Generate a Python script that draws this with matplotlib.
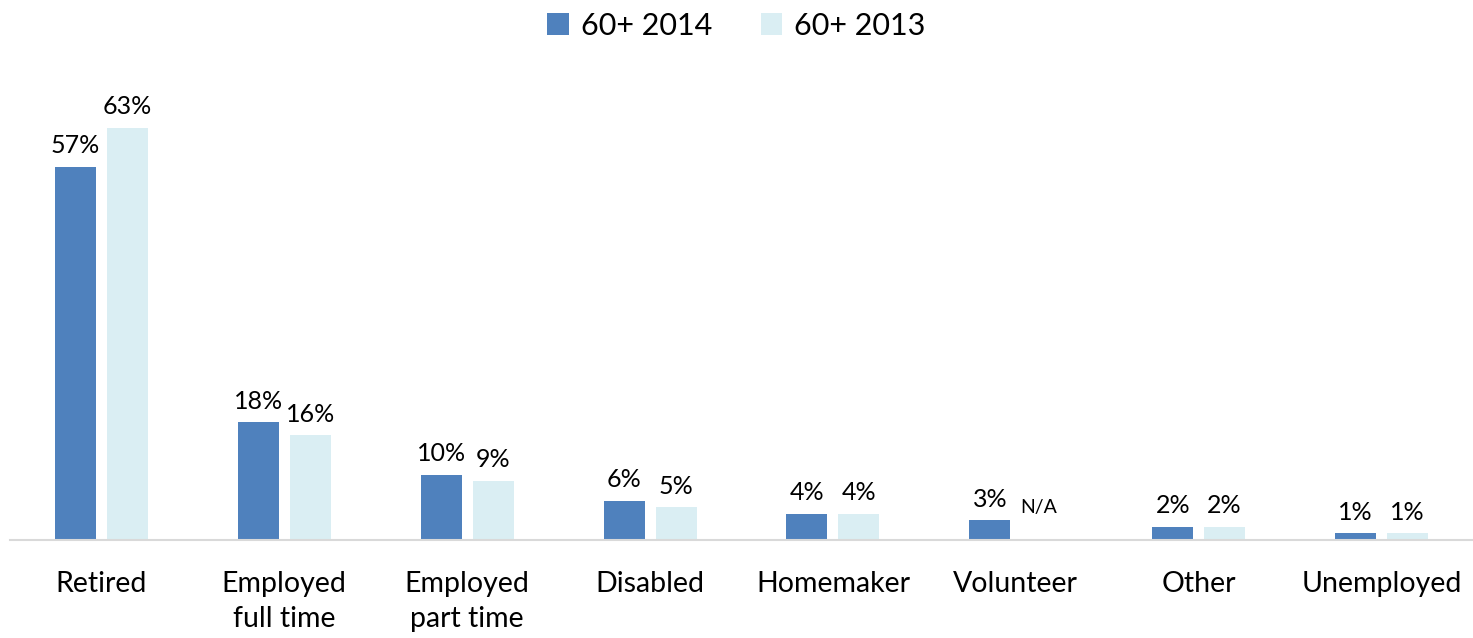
import numpy as np
import matplotlib.pyplot as plt

plt.rcParams['font.family'] = ['Lato', 'DejaVu Sans']

categories = ['Retired', 'Employed\nfull time', 'Employed\npart time', 'Disabled',
              'Homemaker', 'Volunteer', 'Other', 'Unemployed']
v2014 = [57, 18, 10, 6, 4, 3, 2, 1]
v2013 = [63, 16, 9, 5, 4, None, 2, 1]

c2014 = '#4F81BD'
c2013 = '#DAEEF3'

fig = plt.figure(figsize=(14.73, 6.38), dpi=100)
ax = fig.add_axes([10/1473, 98/638, 1 - 10/1473, 458/638])

x = np.arange(len(categories))
w = 0.224
off = 0.142

h13 = [v if v is not None else 0 for v in v2013]
b1 = ax.bar(x - off, v2014, w, color=c2014, label='60+ 2014')
b2 = ax.bar(x + off, h13, w, color=c2013, label='60+ 2013')

for xi, v in zip(x, v2014):
    ax.annotate(f'{v}%', (xi - off, v), xytext=(0, 7), textcoords='offset points',
                ha='center', va='bottom', fontsize=18)
for xi, v in zip(x, v2013):
    if v is None:
        ax.annotate('N/A', (xi + off, 0), xytext=(-2, 17), textcoords='offset points',
                    ha='center', va='bottom', fontsize=14)
    else:
        ax.annotate(f'{v}%', (xi + off, v), xytext=(0, 7), textcoords='offset points',
                    ha='center', va='bottom', fontsize=18)

ax.set_xlim(-0.5, len(categories) - 0.5)
ax.set_ylim(0, 70)
ax.set_xticks(x)
ax.set_xticklabels(categories, fontsize=20.5, linespacing=1.45)
ax.tick_params(axis='x', length=0, pad=22)
ax.set_yticks([])
for s in ['top', 'right', 'left']:
    ax.spines[s].set_visible(False)
ax.spines['bottom'].set_color('#D9D9D9')
ax.spines['bottom'].set_linewidth(1.5)

fig.legend(handles=[b1, b2], loc='upper center', bbox_to_anchor=(0.5, 1.025), ncol=2,
           frameon=False, fontsize=22, handlelength=0.7, handleheight=0.7,
           handletextpad=0.4, columnspacing=1.6)

fig.savefig('out.png', dpi=100)
